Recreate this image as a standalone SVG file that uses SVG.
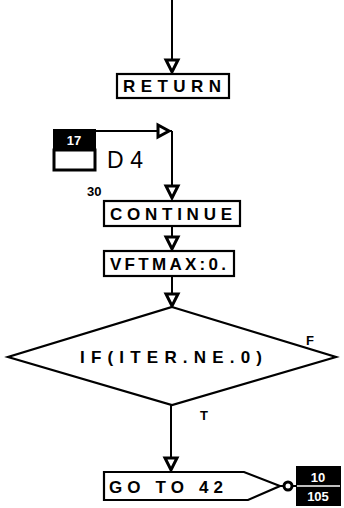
<svg xmlns="http://www.w3.org/2000/svg" width="344" height="508" viewBox="0 0 344 508">
<style>
.box{fill:#fff;stroke:#000;stroke-width:2.2}
.ln{fill:none;stroke:#000;stroke-width:2}
.ah{fill:#fff;stroke:#000;stroke-width:3}
.t{font-family:"Liberation Sans",Arial,sans-serif;font-weight:bold;font-size:17px;fill:#000}
.s{font-family:"Liberation Sans",Arial,sans-serif;font-weight:bold;font-size:13px;fill:#000}
.w{font-family:"Liberation Sans",Arial,sans-serif;font-weight:bold;font-size:13px;fill:#fff}
</style>
<g id="connectors">
<line class="ln" x1="172" y1="0" x2="172" y2="72"/>
<path class="ah" d="M166,60 L178,60 L172,72 Z"/>
<line class="ln" x1="95" y1="131" x2="172" y2="131"/>
<path class="ah" d="M158,125 L158,137 L169,131 Z"/>
<line class="ln" x1="172" y1="131" x2="172" y2="199"/>
<path class="ah" d="M166,186 L178,186 L172,198 Z"/>
<line class="ln" x1="172" y1="226" x2="172" y2="250"/>
<path class="ah" d="M166,237 L178,237 L172,249 Z"/>
<line class="ln" x1="172" y1="276" x2="172" y2="307"/>
<path class="ah" d="M166,294 L178,294 L172,306 Z"/>
<line class="ln" x1="171" y1="405" x2="171" y2="471"/>
<path class="ah" d="M165,458 L177,458 L171,470 Z"/>
<line class="ln" x1="280" y1="486" x2="297" y2="486"/>
<circle class="ah" cx="288" cy="486" r="4"/>
</g>
<g id="return">
<rect class="box" x="117" y="74" width="112" height="24"/>
<text class="t" x="123" y="92" textLength="98" lengthAdjust="spacing">RETURN</text>
</g>
<g id="connector17">
<rect x="54" y="130" width="41" height="20" fill="#000" stroke="#000" stroke-width="2"/>
<rect x="54" y="150" width="41" height="20" fill="#fff" stroke="#000" stroke-width="3"/>
<text class="w" x="74" y="145" text-anchor="middle">17</text>
<text x="107" y="168" font-family="Liberation Sans, Arial, sans-serif" font-size="23" textLength="36" lengthAdjust="spacing" fill="#000">D4</text>
</g>
<g id="continue">
<rect class="box" x="104" y="201" width="136" height="25"/>
<text class="t" x="110" y="220" textLength="122" lengthAdjust="spacing">CONTINUE</text>
<text class="s" x="87" y="196">30</text>
</g>
<g id="vftmax">
<rect class="box" x="104" y="251" width="130" height="25"/>
<text class="t" x="110" y="270" textLength="116" lengthAdjust="spacing">VFTMAX:0.</text>
</g>
<g id="decision">
<polygon class="box" points="172,307 336,357 172,405 8,357"/>
<text class="t" x="80" y="363" textLength="182" lengthAdjust="spacing">IF(ITER.NE.0)</text>
<text class="s" x="306" y="345">F</text>
<text class="s" x="200" y="420">T</text>
</g>
<g id="goto42">
<path class="box" d="M104,472 L244,472 L280,486 L248,500 L104,500 Z"/>
<text class="t" x="109" y="493" textLength="114" lengthAdjust="spacing">GO TO 42</text>
</g>
<g id="connector10">
<rect x="297" y="467" width="43" height="38" fill="#000" stroke="#000" stroke-width="2"/>
<line x1="297" y1="486" x2="340" y2="486" stroke="#fff" stroke-width="1.5"/>
<text class="w" x="318" y="482" text-anchor="middle">10</text>
<text class="w" x="318" y="501" text-anchor="middle">105</text>
</g>
</svg>
